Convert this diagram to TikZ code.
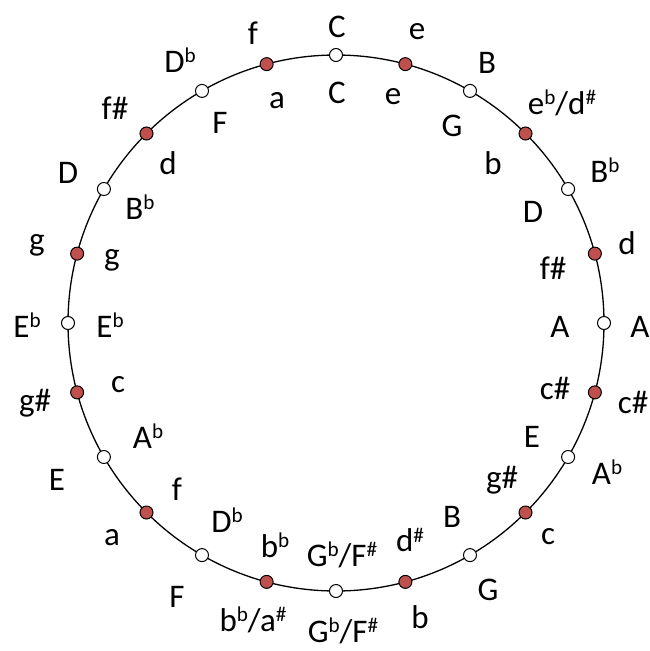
\documentclass[tikz,border=0pt]{standalone}
\usepackage{fontspec}
\setmainfont{Carlito}
\usepackage{tikz}
\definecolor{keyred}{HTML}{C0504D}
\newcommand{\nsup}[1]{\raisebox{0.3em}{\scalebox{0.64}{#1}}}
\newcommand{\nflat}{\nsup{b}}
\newcommand{\nsharp}{\nsup{\#}}

\begin{document}
\begin{tikzpicture}[x=1pt,y=-1pt,font=\fontsize{33}{38}\selectfont,
  key/.style={circle,draw=black,line width=1pt,inner sep=0pt,minimum size=13pt},
  major/.style={key,fill=white},
  minor/.style={key,fill=keyred},
  note/.style={inner sep=0pt,anchor=center}]
  \useasboundingbox (0,0) rectangle (649,651);
  \coordinate (ctr) at (336,323);
  \draw[line width=1.3pt] (ctr) circle[radius=268];
  \foreach \k in {0,2,...,22} \node[major] (k\k) at ([shift={(\k*15-90:268)}]ctr) {};
  \foreach \k in {1,3,...,23} \node[minor] (k\k) at ([shift={(\k*15-90:268)}]ctr) {};
  \foreach \x/\y/\t [count=\n from 0] in {337/27/C,417/32/e,487/63/B,562/103/{e\nflat/d\nsharp},605/170/B\nflat,627/243/d,
    640/327/A,633/402/c\#,607/472/A\nflat,548/537/c,488/590/G,420/617/b,343/631/{G\nflat/F\nsharp},253/620/{b\nflat/a\nsharp},
    177/597/F,112/538/a,57/480/E,35/403/g\#,27/325/E\nflat,37/245/g,68/173/D,115/108/f\#,180/60/D\nflat,253/33/f}
    \node[note] (out\n) at (\x,\y) {\t};
  \foreach \x/\y/\t [count=\n from 0] in {337/93/C,393/97/e,452/126/G,493/163/b,533/212/D,553/268/f\#,
    560/327/A,555/388/c\#,532/437/E,502/480/g\#,452/517/B,410/540/d\nsharp,342/555/{G\nflat/F\nsharp},275/545/b\nflat,
    227/520/D\nflat,177/489/f,148/436/A\nflat,118/385/c,110/325/E\nflat,112/260/g,140/207/B\nflat,168/163/d,220/123/F,277/101/a}
    \node[note] (in\n) at (\x,\y) {\t};
\end{tikzpicture}
\end{document}
